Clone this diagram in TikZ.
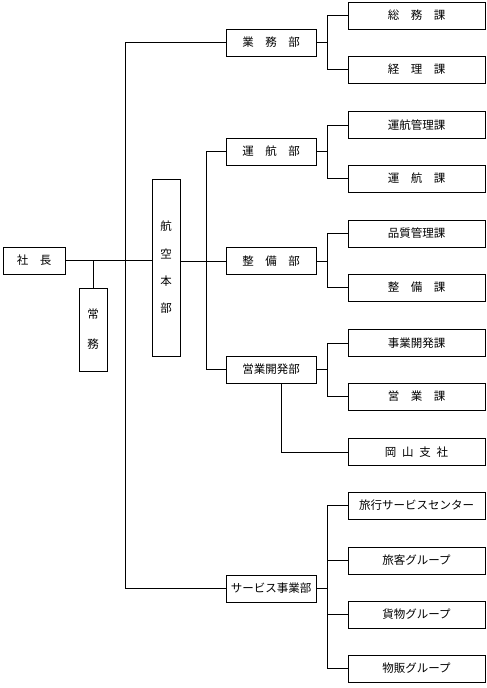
\documentclass[tikz,border=0pt]{standalone}
\usepackage{fontspec}
\setmainfont{Noto Sans CJK JP}
\begin{document}
\begin{tikzpicture}[x=1pt,y=-1pt,line width=0.9pt,
  bx/.style={draw,inner sep=0pt,font=\fontsize{11.5}{12}\selectfont},
  dept/.style={bx,minimum width=90,minimum height=27},
  sect/.style={bx,minimum width=137,minimum height=27},
  vert/.style={bx,minimum width=28,align=center}]
\useasboundingbox (0,0) rectangle (487,688);
% top
\node[bx,minimum width=62,minimum height=27] (pres) at (34,260.5) {社　長};
\node[vert,minimum height=83,font=\fontsize{11.5}{30}\selectfont] (jomu) at (93,329.5) {常\\務};
\node[vert,minimum height=177,font=\fontsize{11.5}{27.3}\selectfont] (honbu) at (166,267.5) {航\\空\\本\\部};
% departments
\node[dept] (gyomu) at (271,42.5) {業　務　部};
\node[dept] (unko) at (271,151.5) {運　航　部};
\node[dept] (seibi) at (271,261) {整　備　部};
\node[dept] (eigyo) at (271,369.5) {営業開発部};
\node[dept] (service) at (271,588.5) {サービス事業部};
% sections
\node[sect] (somu) at (416.5,15.5) {総　務　課};
\node[sect] (keiri) at (416.5,69.5) {経　理　課};
\node[sect] (unkokanri) at (416.5,125) {運航管理課};
\node[sect] (unkoka) at (416.5,178.5) {運　航　課};
\node[sect] (hinshitsu) at (416.5,233.5) {品質管理課};
\node[sect] (seibika) at (416.5,287.5) {整　備　課};
\node[sect] (jigyo) at (416.5,343) {事業開発課};
\node[sect] (eigyoka) at (416.5,396.5) {営　業　課};
\node[sect] (okayama) at (416.5,452) {岡\hspace{0.5em}山\hspace{0.5em}支\hspace{0.5em}社};
\node[sect] (ryoko) at (416.5,505.5) {旅行サービスセンター};
\node[sect] (ryokaku) at (416.5,560.5) {旅客グループ};
\node[sect] (kamotsu) at (416.5,614.5) {貨物グループ};
\node[sect] (buppan) at (416.5,668.5) {物販グループ};
% bus coordinates
\coordinate (mx) at (125,0);
\coordinate (hx) at (206,0);
\coordinate (bx) at (327,0);
\coordinate (ex) at (281,0);
% president / honbu
\draw (pres.east) -- (pres.east -| honbu.west);
\draw (jomu.north) -- (jomu.north |- pres.east);
\draw (gyomu.west) -- (gyomu.west -| mx) -- (service.west -| mx) -- (service.west);
\draw (honbu.east |- seibi.west) -- (seibi.west);
\draw (unko.west) -- (unko.west -| hx) -- (eigyo.west -| hx) -- (eigyo.west);
% branches
\draw (gyomu.east) -- (gyomu.east -| bx);
\draw (somu.west) -- (somu.west -| bx) -- (keiri.west -| bx) -- (keiri.west);
\draw (unko.east) -- (unko.east -| bx);
\draw (unkokanri.west) -- (unkokanri.west -| bx) -- (unkoka.west -| bx) -- (unkoka.west);
\draw (seibi.east) -- (seibi.east -| bx);
\draw (hinshitsu.west) -- (hinshitsu.west -| bx) -- (seibika.west -| bx) -- (seibika.west);
\draw (eigyo.east) -- (eigyo.east -| bx);
\draw (jigyo.west) -- (jigyo.west -| bx) -- (eigyoka.west -| bx) -- (eigyoka.west);
\draw (eigyo.south -| ex) -- (okayama.west -| ex) -- (okayama.west);
\draw (service.east) -- (service.east -| bx);
\draw (ryoko.west) -- (ryoko.west -| bx) -- (buppan.west -| bx) -- (buppan.west);
\draw (ryokaku.west) -- (ryokaku.west -| bx);
\draw (kamotsu.west) -- (kamotsu.west -| bx);
\end{tikzpicture}
\end{document}
